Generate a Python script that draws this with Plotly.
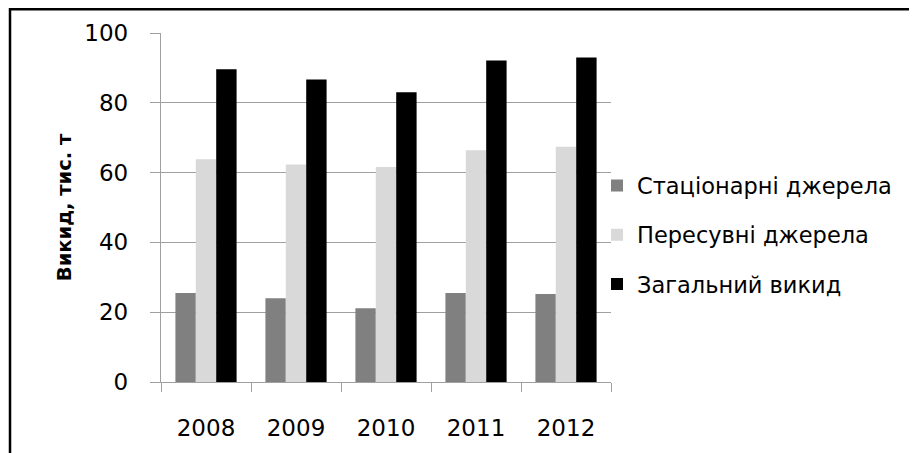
import plotly.graph_objects as go

years = ["2008", "2009", "2010", "2011", "2012"]
stationary = [25.5, 24.0, 21.1, 25.5, 25.2]
mobile = [63.8, 62.3, 61.6, 66.4, 67.4]
total = [89.6, 86.7, 83.0, 92.1, 93.0]

names = ["Стаціонарні джерела", "Пересувні джерела", "Загальний викид"]
colors = ["#808080", "#d9d9d9", "#000000"]

OFF = 8  # page body margin
W, H = 917 - OFF, 453 - OFF
# target plot area in window pixels: x 161..611, y 31..382
ML, MT = 161 - OFF, 31 - OFF
MR = W - (611 - OFF)
MB = H - (382 - OFF)
FONT = "DejaVu Sans"

fig = go.Figure()
for i, (nm, vals) in enumerate(zip(names, [stationary, mobile, total])):
    fig.add_trace(go.Bar(x=years, y=vals, name=nm, marker_color=colors[i],
                         marker_line_width=0, legendgroup=f"g{i}"))

pw = W - ML - MR
ph = H - MT - MB
def px_x(x):
    return (x - OFF - ML) / pw
def px_y(y):
    return (H - MB - (y - OFF)) / ph

fig.add_shape(type="rect", xref="paper", yref="paper",
              x0=px_x(10), x1=px_x(930), y0=px_y(7), y1=px_y(470),
              line=dict(color="black", width=2.5), fillcolor="rgba(0,0,0,0)", layer="above")

fig.update_layout(
    width=W, height=H,
    margin=dict(l=ML, r=MR, t=MT, b=MB),
    paper_bgcolor="white", plot_bgcolor="white",
    barmode="group", bargap=0.32, bargroupgap=0,
    font=dict(family=FONT, size=23, color="black"),
    showlegend=True,
    legend=dict(x=px_x(597), xanchor="left", y=px_y(234), yanchor="middle",
                font=dict(family=FONT, size=22.5, color="black"),
                tracegroupgap=17, bgcolor="rgba(0,0,0,0)"),
    xaxis=dict(type="category", showline=True, linecolor="#a0a0a0", linewidth=1.3,
               ticks="outside", tickson="boundaries", ticklen=9, tickcolor="#a0a0a0",
               tickwidth=1.3, showgrid=False, ticklabelstandoff=25,
               tickfont=dict(family=FONT, size=23, color="black")),
    yaxis=dict(range=[0, 100], dtick=20, showline=True, linecolor="#a0a0a0", linewidth=1.3,
               ticks="outside", ticklen=10, tickcolor="#a0a0a0", tickwidth=1.3,
               showgrid=True, gridcolor="#a0a0a0", gridwidth=1.3, zeroline=False,
               ticklabelstandoff=17,
               tickfont=dict(family=FONT, size=23, color="black")),
)
fig.update_yaxes(title=dict(text="<b>Викид, тис. т</b>", standoff=7,
                            font=dict(family=FONT, size=19.5, color="black")))

fig.write_html("out.html")
